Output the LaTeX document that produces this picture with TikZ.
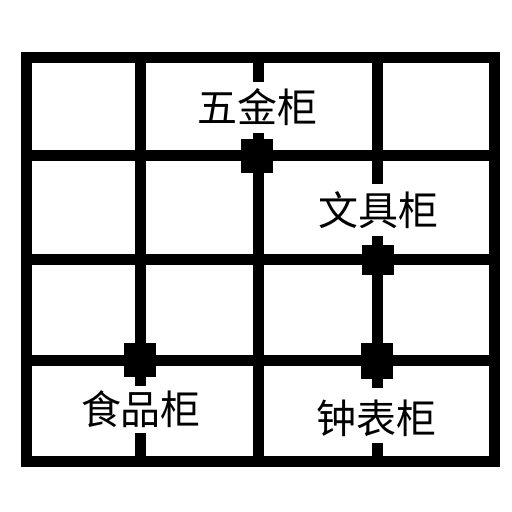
\documentclass[tikz,border=0pt]{standalone}
\usepackage{fontspec}
\newfontfamily\cjk{Noto Sans CJK SC}
\begin{document}
\begin{tikzpicture}[x=1pt,y=-1pt,
  wall/.style={line width=11pt, black},
  joint/.style={fill=black, draw=none, inner sep=0pt, minimum width=32pt, minimum height=34pt},
  lbl/.style={font=\cjk\fontsize{40}{44}\selectfont, inner sep=0pt}]
\useasboundingbox[fill=white] (0,0) rectangle (512,512);
% grid coordinates
\coordinate (TL) at (26.5,57.5);
\coordinate (BR) at (494,461);
% outer frame
\draw[wall] (TL) rectangle (BR);
% horizontal walls
\foreach \y/\n in {155/h1,259/h2,360/h3}{
  \coordinate (\n l) at (26.5,\y);
  \coordinate (\n r) at (494,\y);
  \draw[wall] (\n l) -- (\n r);
}
% vertical wall at x=140.5
\coordinate (a0) at (140.5,57.5);
\coordinate (a1) at (140.5,386);
\coordinate (a2) at (140.5,433);
\coordinate (a3) at (140.5,461);
\draw[wall] (a0) -- (a1);
\draw[wall] (a2) -- (a3);
% vertical wall at x=258
\coordinate (b0) at (258,57.5);
\coordinate (b1) at (258,82);
\coordinate (b2) at (258,133);
\coordinate (b3) at (258,461);
\draw[wall] (b0) -- (b1);
\draw[wall] (b2) -- (b3);
% vertical wall at x=377.5
\coordinate (c0) at (377.5,57.5);
\coordinate (c1) at (377.5,184);
\coordinate (c2) at (377.5,236);
\coordinate (c3) at (377.5,388);
\coordinate (c4) at (377.5,443);
\coordinate (c5) at (377.5,461);
\draw[wall] (c0) -- (c1);
\draw[wall] (c2) -- (c3);
\draw[wall] (c4) -- (c5);
% joints
\node[joint] (j1) at (257,156) {};
\node[joint, minimum height=30pt] (j2) at (377.5,260) {};
\node[joint, minimum height=36pt] (j3) at (377,361) {};
\node[joint] (j4) at (140,360) {};
% labels
\node[lbl] (wujin) at (257.5,107) {五金柜};
\node[lbl] (wenju) at (378,210.5) {文具柜};
\node[lbl] (shipin) at (141,409.5) {食品柜};
\node[lbl] (zhongbiao) at (376,418) {钟表柜};
\end{tikzpicture}
\end{document}
